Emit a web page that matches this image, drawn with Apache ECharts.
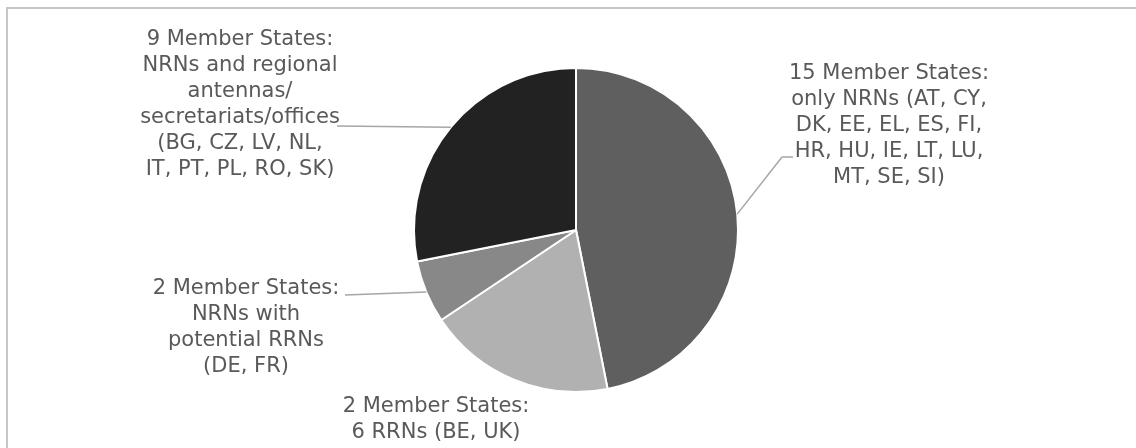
<!DOCTYPE html>
<html>
<head>
<meta charset="utf-8">
<script src="https://cdn.jsdelivr.net/npm/echarts@6/dist/echarts.min.js"></script>
<style>
  html, body { margin: 0; padding: 0; background: #fff; }
  #chart { width: 1136px; height: 448px; }
</style>
</head>
<body>
<div id="chart"></div>
<script>
// slices, clockwise from 12 o'clock
const labels = [
  '15 Member States:\nonly NRNs (AT, CY,\nDK, EE, EL, ES, FI,\nHR, HU, IE, LT, LU,\nMT, SE, SI)',
  '2 Member States:\n6 RRNs (BE, UK)',
  '2 Member States:\nNRNs with\npotential RRNs\n(DE, FR)',
  '9 Member States:\nNRNs and regional\nantennas/\nsecretariats/offices\n(BG, CZ, LV, NL,\nIT, PT, PL, RO, SK)'
]
const values = [15, 6, 2, 9]
const colors = ['#5f5f5f', '#b1b1b1', '#888888', '#222222']

// centre of each label block
const labelPos = [
  [889, 126],
  [436, 420],
  [246, 328],
  [240, 105]
]
// where the leader line meets the label (null = no leader line)
const leaderEnds = [
  [[782, 157], [793, 157]],
  null,
  [[345, 295]],
  [[337, 126]]
]

const chart = echarts.init(document.getElementById('chart'))

chart.setOption({
  animation: false,
  backgroundColor: '#fff',
  graphic: [{
    id: 'frame',
    type: 'rect',
    silent: true,
    shape: { x: 7, y: 8, width: 1300, height: 600 },
    style: { fill: 'none', stroke: '#c6c6c6', lineWidth: 2 }
  }],
  series: [{
    type: 'pie',
    center: [576, 230],
    radius: 162,
    startAngle: 90,
    clockwise: true,
    emphasis: { disabled: true },
    itemStyle: { borderColor: '#fff', borderWidth: 2 },
    label: {
      show: true,
      position: 'outside',
      formatter: (p) => p.name,
      color: '#595959',
      fontFamily: '"DejaVu Sans", Verdana, sans-serif',
      fontSize: 21,
      lineHeight: 26,
      align: 'center'
    },
    labelLine: { show: false },
    labelLayout: (params) => {
      const p = labelPos[params.dataIndex]
      return { x: p[0], y: p[1], align: 'center', verticalAlign: 'middle' }
    },
    data: values.map((v, i) => ({
      value: v,
      name: labels[i],
      itemStyle: { color: colors[i] }
    }))
  }]
})

// leader lines start at the middle of each slice's outer arc, taken from the pie layout
const pieData = chart.getModel().getSeriesByIndex(0).getData()
const lines = []
values.forEach((v, i) => {
  if (!leaderEnds[i]) return
  const l = pieData.getItemLayout(i)
  const mid = (l.startAngle + l.endAngle) / 2
  const start = [l.cx + l.r * Math.cos(mid), l.cy + l.r * Math.sin(mid)]
  lines.push({
    id: 'leader' + i,
    type: 'polyline',
    silent: true,
    z: 10,
    shape: { points: [start].concat(leaderEnds[i]) },
    style: { fill: null, stroke: '#a6a6a6', lineWidth: 1.5 }
  })
})
chart.setOption({ graphic: lines })
</script>
</body>
</html>
